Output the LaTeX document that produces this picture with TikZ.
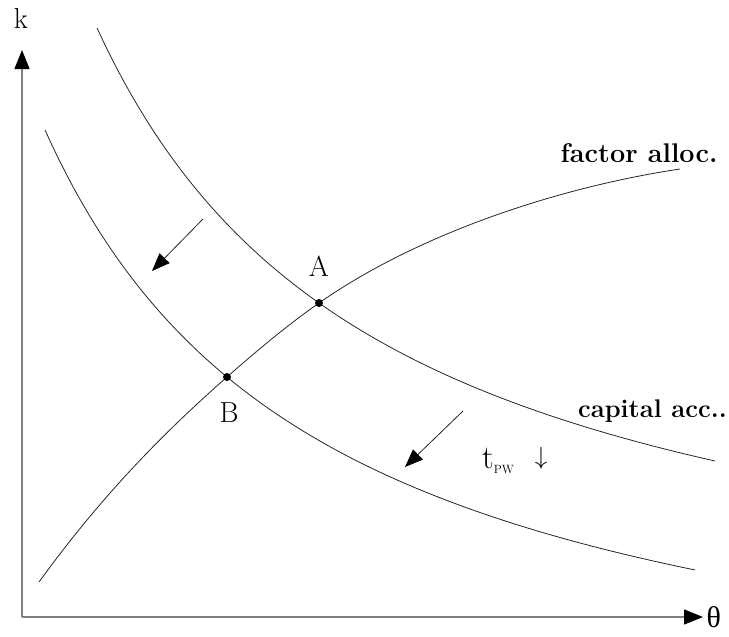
\documentclass[tikz,border=0pt]{standalone}
\usepackage{amsmath}
\usepackage{fontspec}
\newfontfamily\grkfont{Liberation Serif}
\usepackage{tikz}
\usetikzlibrary{positioning,arrows.meta,calc}

\begin{document}
\begin{tikzpicture}[x=1pt,y=-1pt,
    curve/.style={line width=0.8pt,black!85},
    axis/.style={line width=1.4pt,black!50,-{Triangle[length=19pt,width=15pt,fill=black,color=black]}},
    shiftarrow/.style={line width=0.8pt,black!85,-{Triangle[length=18pt,width=14pt,fill=black,color=black]}},
    dot/.style={circle,fill=black,inner sep=0pt,minimum size=8pt},
    lab/.style={font=\fontsize{29}{31}\selectfont},
    curvelab/.style={font=\fontsize{27}{30}\selectfont\bfseries}]
  \useasboundingbox (0,0) rectangle (729,637);
  % axes
  \coordinate (O) at (22,617);
  \coordinate (ytop) at (22,50);
  \coordinate (xend) at (703,617);
  \draw[axis] (O) -- (ytop);
  \draw[axis] (O) -- (xend);
  \node[lab] (k) at (21,18) {k};
  \node[lab,right=0pt of xend,font=\fontsize{30}{32}\grkfont] (theta) {θ};
  % equilibria
  \coordinate (A) at (319,303);
  \coordinate (B) at (227,377);
  \coordinate (fstart) at (39,582);
  \coordinate (fend) at (680,169);
  % curves
  \draw[curve] plot[domain=97:715,samples=90] (\x,{666.7-1875.25/((\x+196.6)/100)});
  \draw[curve] plot[domain=45:695,samples=90] (\x,{762-1793.06/((\x+238.7)/100)});
  \draw[curve] (fstart) .. controls (102,495.1) and (164,432.4) .. (B)
    .. controls (257.7,350) and (288.3,324.5) .. (A)
    .. controls (419,233) and (560,187) .. (fend);
  \node[dot] (dotA) at (A) {};
  \node[dot] (dotB) at (B) {};
  \node[lab] (labA) at (319,266) {A};
  \node[lab] (labB) at (229,413) {B};
  % shifts
  \coordinate (s1) at (203,219);
  \coordinate (e1) at (152,271);
  \coordinate (s2) at (463,411);
  \coordinate (e2) at (405,467);
  \draw[shiftarrow] (s1) -- (e1);
  \draw[shiftarrow] (s2) -- (e2);
  % labels
  \node[curvelab,anchor=east] (fa) at (721,153) {factor alloc.};
  \node[curvelab,anchor=east,inner sep=1pt,font=\fontsize{25.5}{28}\selectfont\bfseries] (ca) at (728,411) {capital acc..};
  \node[anchor=base west,inner sep=0pt,font=\fontsize{33}{35}\selectfont] (tpw) at (482,468) {t\raisebox{-0.4ex}{\fontsize{12}{13}\selectfont PW}};
  \node[lab,anchor=center] (down) at (541,458) {$\downarrow$};
\end{tikzpicture}
\end{document}
